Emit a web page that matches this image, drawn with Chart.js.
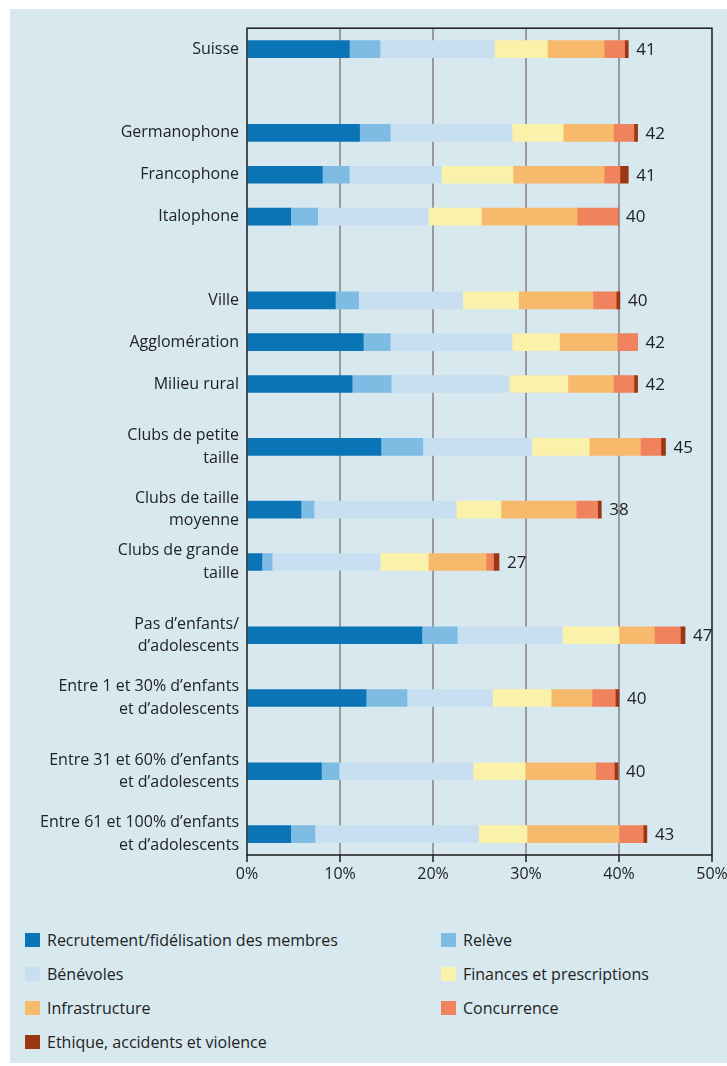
<!DOCTYPE html>
<html>
<head>
<meta charset="utf-8">
<script src="https://cdn.jsdelivr.net/npm/chart.js@4.4.1/dist/chart.umd.min.js"></script>
<style>
  html, body { margin: 0; padding: 0; background: #fff; }
  body { width: 727px; height: 1066px; position: relative; overflow: hidden; font-family: 'Open Sans', sans-serif; }
  .panel { position: absolute; left: 10px; top: 9px; width: 717px; height: 1054px; background: #d7e8ef; }
  .chart-box { position: absolute; left: 0; top: 0; width: 717px; height: 895px; }
  .legend { position: absolute; left: 15px; top: 914px; display: grid; grid-template-columns: 416px 280px; }
  .legend-item { height: 34px; line-height: 34px; font-size: 16px; color: #222; white-space: nowrap; }
  .legend-item span.sw { display: inline-block; width: 15px; height: 14px; margin-right: 7px; vertical-align: -1px; }
</style>
</head>
<body>
<div class="panel">
  <div class="chart-box"><canvas id="chart"></canvas></div>
  <div class="legend" id="legend"></div>
</div>
<script>
/* ---- Data ---- */
const CATEGORIES = [
  'Suisse',
  'Germanophone',
  'Francophone',
  'Italophone',
  'Ville',
  'Agglomération',
  'Milieu rural',
  ['Clubs de petite', 'taille'],
  ['Clubs de taille', 'moyenne'],
  ['Clubs de grande', 'taille'],
  ['Pas d\u2019enfants/', 'd\u2019adolescents'],
  ['Entre 1 et 30% d\u2019enfants', 'et d\u2019adolescents'],
  ['Entre 31 et 60% d\u2019enfants', 'et d\u2019adolescents'],
  ['Entre 61 et 100% d\u2019enfants', 'et d\u2019adolescents'],
];

const RECRUTEMENT = [11.0, 12.1, 8.1, 4.7, 9.5, 12.5, 11.3, 14.4, 5.8, 1.6, 18.8, 12.8, 8.0, 4.7];
const RELEVE      = [3.3, 3.3, 2.9, 2.9, 2.5, 2.9, 4.2, 4.5, 1.4, 1.1, 3.8, 4.4, 1.9, 2.6];
const BENEVOLES   = [12.3, 13.1, 9.9, 11.9, 11.2, 13.1, 12.7, 11.7, 15.3, 11.6, 11.3, 9.2, 14.4, 17.6];
const FINANCES    = [5.7, 5.5, 7.7, 5.7, 6.0, 5.1, 6.3, 6.2, 4.8, 5.2, 6.1, 6.3, 5.6, 5.2];
const INFRA       = [6.1, 5.4, 9.8, 10.3, 8.0, 6.2, 4.9, 5.5, 8.1, 6.2, 3.8, 4.4, 7.6, 9.9];
const CONCURRENCE = [2.2, 2.2, 1.7, 4.4, 2.5, 2.2, 2.2, 2.2, 2.3, 0.8, 2.8, 2.5, 2.0, 2.6];
const ETHIQUE     = [0.4, 0.4, 0.9, 0.0, 0.4, 0.0, 0.4, 0.5, 0.4, 0.6, 0.5, 0.4, 0.4, 0.4];
const TOTALS      = [41, 42, 41, 40, 40, 42, 42, 45, 38, 27, 47, 40, 40, 43];

const X_TICKS = [0, 10, 20, 30, 40, 50];

const SERIES = [
  { label: 'Recrutement/fidélisation des membres', data: RECRUTEMENT, color: '#0a74b7' },
  { label: 'Relève', data: RELEVE, color: '#7fbce3' },
  { label: 'Bénévoles', data: BENEVOLES, color: '#c7dff1' },
  { label: 'Finances et prescriptions', data: FINANCES, color: '#faf1aa' },
  { label: 'Infrastructure', data: INFRA, color: '#f7b96c' },
  { label: 'Concurrence', data: CONCURRENCE, color: '#f0825e' },
  { label: 'Ethique, accidents et violence', data: ETHIQUE, color: '#9c3713' },
];

/* ---- Row layout: slot of each category on the y axis (groups are separated by blank slots) ---- */
const ROW_SLOT = [0, 8, 12, 16, 24, 28, 32, 38, 44, 49, 56, 62, 69, 75];
const PAD_SLOTS = 2;
const SLOT_COUNT = PAD_SLOTS * 2 + ROW_SLOT[ROW_SLOT.length - 1] + 1;

function slotIndex(i) { return ROW_SLOT[i] + PAD_SLOTS; }

const yLabels = new Array(SLOT_COUNT).fill('');
CATEGORIES.forEach((c, i) => { yLabels[slotIndex(i)] = c; });

function spread(values) {
  const out = new Array(SLOT_COUNT).fill(null);
  values.forEach((v, i) => { out[slotIndex(i)] = v; });
  return out;
}

const FONT = "'Open Sans', sans-serif";
const TEXT = '#222';

/* ---- Plugins ---- */
const totalsPlugin = {
  id: 'totals',
  afterDatasetsDraw(chart) {
    const ctx = chart.ctx;
    const meta = chart.getDatasetMeta(chart.data.datasets.length - 1);
    ctx.save();
    ctx.font = `17px ${FONT}`;
    ctx.fillStyle = TEXT;
    ctx.textAlign = 'left';
    ctx.textBaseline = 'middle';
    TOTALS.forEach((t, i) => {
      const bar = meta.data[slotIndex(i)];
      if (!bar) return;
      ctx.fillText(String(t), bar.x + 8, bar.y + 1);
    });
    ctx.restore();
  },
};

const framePlugin = {
  id: 'frame',
  afterDraw(chart) {
    const { left, right, top, bottom } = chart.chartArea;
    const ctx = chart.ctx;
    ctx.save();
    ctx.strokeStyle = '#1a1a1a';
    ctx.lineWidth = 1.5;
    ctx.strokeRect(left, top, right - left, bottom - top);
    ctx.restore();
  },
};

/* ---- Chart ---- */
const chart = new Chart(document.getElementById('chart'), {
  type: 'bar',
  data: {
    labels: yLabels,
    datasets: SERIES.map((s) => ({
      label: s.label,
      data: spread(s.data),
      backgroundColor: s.color,
      borderWidth: 0,
      barThickness: 17,
    })),
  },
  options: {
    indexAxis: 'y',
    responsive: true,
    maintainAspectRatio: false,
    animation: false,
    layout: { padding: { top: 15, right: 15, left: 0, bottom: 0 } },
    plugins: {
      legend: { display: false },
      tooltip: { enabled: false },
    },
    scales: {
      x: {
        stacked: true,
        min: 0,
        max: 50,
        afterBuildTicks: (scale) => { scale.ticks = X_TICKS.map((v) => ({ value: v })); },
        afterFit: (scale) => {
          scale.height = 49;
          // keep the plot edge at 50 % fixed; the last label may overhang
          scale.paddingLeft = 0;
          scale.paddingRight = 0;
        },
        border: { display: false },
        grid: {
          color: (c) => (c.tick && (c.tick.value === 0 || c.tick.value === 50) ? 'rgba(0,0,0,0)' : '#9a9a9a'),
          lineWidth: 2,
          drawTicks: true,
          tickLength: 7,
          tickColor: '#1a1a1a',
          tickWidth: 1.5,
        },
        ticks: {
          color: TEXT,
          font: { family: FONT, size: 16 },
          padding: 3,
          maxRotation: 0,
          callback: (v) => v + '%',
        },
      },
      y: {
        stacked: true,
        offset: false,
        afterFit: (scale) => { scale.width = 237; },
        border: { display: false },
        grid: { display: false, drawTicks: false },
        ticks: {
          autoSkip: false,
          color: TEXT,
          padding: 8,
          font: { family: FONT, size: 16, lineHeight: 1.4 },
        },
      },
    },
  },
  plugins: [totalsPlugin, framePlugin],
});

/* ---- HTML legend (two columns, like the original) ---- */
const legend = document.getElementById('legend');
SERIES.forEach((s) => {
  const item = document.createElement('div');
  item.className = 'legend-item';
  item.innerHTML = `<span class="sw" style="background:${s.color}"></span>${s.label}`;
  legend.appendChild(item);
});
</script>
</body>
</html>
